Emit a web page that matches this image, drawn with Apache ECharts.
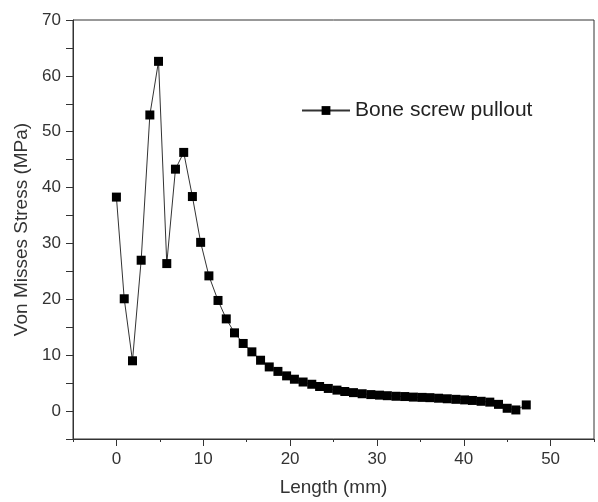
<!DOCTYPE html>
<html>
<head>
<meta charset="utf-8">
<script src="https://cdn.jsdelivr.net/npm/echarts@6/dist/echarts.min.js"></script>
<style>
html,body{margin:0;padding:0;background:#fff;}
#chart{width:598px;height:502px;}
</style>
</head>
<body>
<div id="chart"></div>
<script>
const seriesName = "Bone screw pullout";
const lengthMm = [0, 0.9, 1.85, 2.85, 3.85, 4.85, 5.8, 6.8, 7.75, 8.75, 9.7, 10.65, 11.7, 12.65, 13.6, 14.6, 15.6, 16.6, 17.6, 18.6, 19.6, 20.5, 21.5, 22.5, 23.4, 24.4, 25.4, 26.3, 27.3, 28.3, 29.3, 30.3, 31.2, 32.2, 33.2, 34.2, 35.2, 36.1, 37.1, 38.1, 39.1, 40.1, 41.0, 42.0, 43.0, 44.0, 45.0, 46.0, 47.2];
const stressMPa = [38.3, 20.1, 9.0, 27.0, 53.0, 62.6, 26.4, 43.3, 46.3, 38.4, 30.2, 24.2, 19.8, 16.5, 14.0, 12.1, 10.6, 9.1, 7.9, 7.1, 6.3, 5.7, 5.2, 4.8, 4.4, 4.05, 3.75, 3.5, 3.3, 3.1, 2.95, 2.85, 2.75, 2.65, 2.6, 2.5, 2.45, 2.4, 2.3, 2.2, 2.1, 2.0, 1.9, 1.75, 1.6, 1.2, 0.5, 0.2, 1.1];
const xTicks = [0, 10, 20, 30, 40, 50];
const yTicks = [0, 10, 20, 30, 40, 50, 60, 70];

const points = lengthMm.map((x, i) => [x, stressMPa[i]]);
const font = 'Liberation Sans, Arial, sans-serif';

const chart = echarts.init(document.getElementById('chart'), null, {renderer: 'canvas'});
chart.setOption({
  animation: false,
  backgroundColor: '#fff',
  grid: {left: 73, right: 4, top: 20, bottom: 61, show: true, borderColor: '#333', borderWidth: 1, backgroundColor: 'transparent'},
  legend: {
    left: 301, top: 100, padding: 0,
    itemWidth: 48, itemHeight: 11, itemGap: 6,
    textStyle: {fontFamily: font, fontSize: 21, color: '#222'},
    data: [seriesName]
  },
  xAxis: [{
    type: 'value', min: -5, max: 55, interval: 5,
    name: 'Length (mm)', nameLocation: 'middle', nameGap: 39,
    nameTextStyle: {fontFamily: font, fontSize: 19, color: '#333'},
    axisLine: {show: true, onZero: false, lineStyle: {color: '#333', width: 1}},
    axisTick: {show: true, inside: false, length: 7, lineStyle: {color: '#333'}, customValues: xTicks},
    axisLabel: {fontFamily: font, fontSize: 17, color: '#333', margin: 12, customValues: xTicks},
    splitLine: {show: false}
  }, {
    type: 'value', min: -5, max: 55, interval: 5, position: 'bottom',
    axisLine: {show: false, onZero: false},
    axisTick: {show: true, inside: false, length: 3, lineStyle: {color: '#333'}},
    axisLabel: {show: false},
    splitLine: {show: false}
  }],
  yAxis: {
    type: 'value', min: -5, max: 70, interval: 5,
    name: 'Von Misses Stress (MPa)', nameLocation: 'middle', nameGap: 41,
    nameTextStyle: {fontFamily: font, fontSize: 19, color: '#333'},
    axisLine: {show: true, onZero: false, lineStyle: {color: '#333', width: 1}},
    axisTick: {show: true, inside: false, length: 7, lineStyle: {color: '#333'}},
    axisLabel: {fontFamily: font, fontSize: 17, color: '#333', margin: 12,
      formatter: v => (yTicks.indexOf(v) >= 0 ? String(v) : '')},
    splitLine: {show: false}
  },
  series: [{
    name: seriesName, type: 'line', data: points, xAxisIndex: 0,
    symbol: 'rect', symbolSize: 9,
    itemStyle: {color: '#000'},
    lineStyle: {color: '#333', width: 1},
    showAllSymbol: true
  }]
});
</script>
</body>
</html>
